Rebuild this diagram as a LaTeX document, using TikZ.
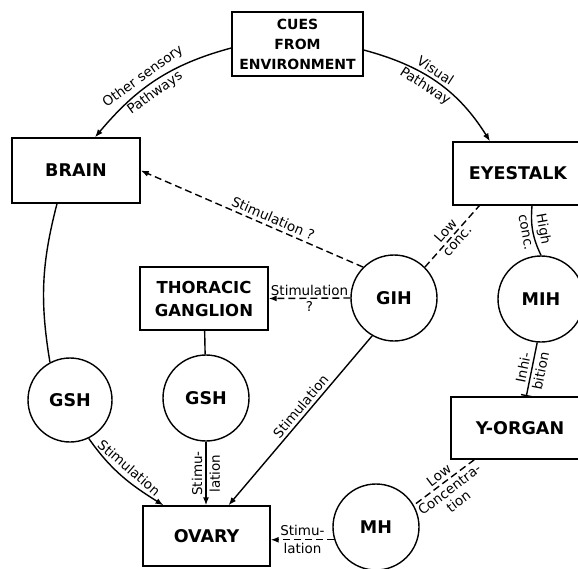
\documentclass[tikz,border=0pt]{standalone}
\usepackage{fontspec}
\setmainfont{DejaVu Sans}
\usetikzlibrary{arrows.meta}
\begin{document}
\begin{tikzpicture}[x=1pt,y=1pt,line width=1.4pt,>={Latex[length=8pt,width=6pt]},
organ/.style={draw, rectangle, inner sep=0pt, align=center, font=\fontsize{17.5}{23}\selectfont\bfseries},
hormone/.style={draw, circle, inner sep=0pt, minimum size=86pt, font=\fontsize{17.5}{20}\selectfont\bfseries},
lbl/.style={font=\fontsize{13.5}{15}\selectfont, inner sep=3pt, align=center},
dashlink/.style={dash pattern=on 7pt off 4pt}]
\useasboundingbox (0,0) rectangle (578,-568);
\node[organ, minimum width=131pt, minimum height=64pt, font=\fontsize{14}{20}\selectfont\bfseries] (cues) at (297.5,-44){CUES\\FROM\\ENVIRONMENT};
\node[organ, minimum width=128pt, minimum height=65pt] (brain) at (76,-170.5){BRAIN};
\node[organ, minimum width=130pt, minimum height=63pt] (eyestalk) at (518,-173.5){EYESTALK};
\node[organ, minimum width=128pt, minimum height=63pt, font=\fontsize{16.5}{23}\selectfont\bfseries] (thoracic) at (204,-298.5){THORACIC\\GANGLION};
\node[organ, minimum width=138pt, minimum height=62pt] (yorgan) at (520,-428){Y-ORGAN};
\node[organ, minimum width=127pt, minimum height=60pt] (ovary) at (206.5,-536){OVARY};
\node[hormone] (gih) at (394,-298){GIH};
\node[hormone] (mih) at (541,-299){MIH};
\node[hormone, minimum size=84pt] (gshb) at (70,-400){GSH};
\node[hormone] (gsht) at (206,-398){GSH};
\node[hormone] (mh) at (376,-527){MH};
\draw[->] ([yshift=-4pt]cues.west) to[out=195,in=50] node[lbl, sloped, above, pos=.55]{Other sensory} node[lbl, sloped, below, pos=.55]{Pathways} ([xshift=19pt]brain.north);
\draw[->] ([yshift=-6pt]cues.east) to[out=-15,in=122] node[lbl, sloped, above, pos=.45]{Visual} node[lbl, sloped, below, pos=.45]{Pathway} ([xshift=-28pt]eyestalk.north);
\draw[->, dashlink] (gih.135) -- node[lbl, sloped, above, pos=.42]{Stimulation ?} (brain.east);
\draw[->, dashlink] (gih.west) -- node[lbl, above, inner sep=2pt]{Stimulation} node[lbl, below]{?} (thoracic.east);
\draw[dashlink] (gih.45) -- node[lbl, sloped, above]{Low} node[lbl, sloped, below]{conc.} ([xshift=27pt]eyestalk.south west);
\draw ([xshift=14pt]eyestalk.south) to[bend right=15] node[lbl, sloped, above]{High} node[lbl, sloped, below]{conc.} (mih.north);
\draw[-{Bar[width=11pt]}] (mih.265) -- node[lbl, sloped, above]{Inhi-} node[lbl, sloped, below]{bition} ([xshift=76pt]yorgan.north west);
\draw[dashlink] ([xshift=24pt]yorgan.south west) -- node[lbl, sloped, above]{Low} node[lbl, sloped, below]{Concentra-\\tion} (mh.30);
\draw[->, dashlink] (mh.197) -- node[lbl, above]{Stimu-} node[lbl, below]{lation} (mh.197 -| ovary.east);
\draw[->] (gih.240) -- node[lbl, sloped, above, pos=.45]{Stimulation} ([xshift=22pt]ovary.north);
\draw[->] (gshb.-64) to[out=-55,in=148] node[lbl, sloped, above=2pt]{Stimulation} ([xshift=-43pt]ovary.north);
\draw[->] (gsht.south) -- node[lbl, rotate=90, above]{Stimu-} node[lbl, rotate=90, below]{lation} (gsht.south |- ovary.north);
\draw (thoracic) -- (gsht);
\draw ([xshift=-19pt]brain.south) to[bend right=12] (gshb.118);
\end{tikzpicture}
\end{document}
